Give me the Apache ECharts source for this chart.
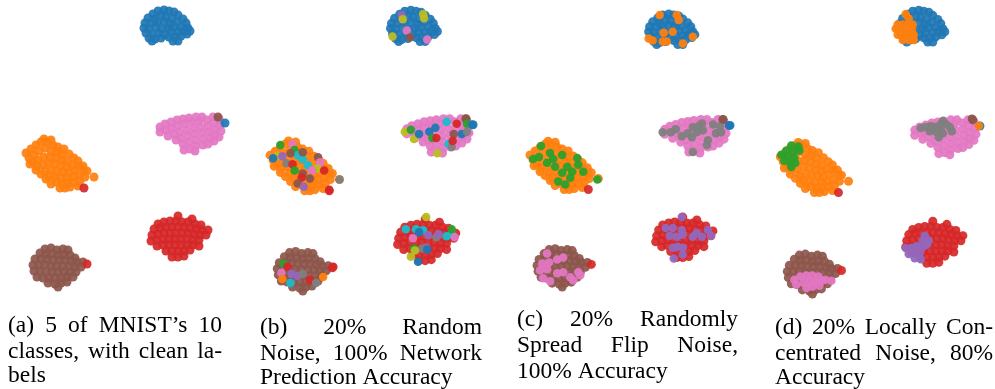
<!DOCTYPE html>
<html><head><meta charset="utf-8">
<script src="https://cdn.jsdelivr.net/npm/echarts@6.0.0/dist/echarts.min.js"></script>
<style>html,body{margin:0;padding:0;background:#fff}#c{width:995px;height:389px}</style>
</head><body><div id="c"></div>
<script>
// tab10 class colours (0 blue,1 orange,2 green,3 red,4 purple,5 brown,6 pink,7 gray,8 olive,9 cyan)
const classColors = ['#1f77b4','#ff7f0e','#2ca02c','#d62728','#9467bd','#8c564b','#e377c2','#7f7f7f','#bcbd22','#17becf'];

// embedding positions of the five classes (t-SNE units)
const cluster0 = [[158,11],[164,10],[169,11],[174,12],[153,14],[161,15],[178,15],[148,18],[155,19],[166,17],[172,19],[183,19],[145,23],[151,23],[158,22],[164,22],[170,24],[177,22],[186,23],[144,28],[149,29],[156,27],[162,29],[168,28],[174,27],[181,27],[188,28],[146,33],[152,34],[159,33],[165,35],[171,32],[178,32],[184,31],[190,31],[149,38],[155,39],[161,38],[169,37],[175,37],[181,36],[187,34],[173,41],[178,41],[152,41]];
const cluster1 = [[26,153],[31,149],[36,145],[41,142],[47,142],[53,145],[58,147],[29,158],[34,155],[39,151],[45,148],[51,151],[57,152],[62,154],[33,162],[38,160],[44,157],[50,157],[56,158],[62,160],[67,161],[37,166],[43,165],[49,163],[55,164],[61,166],[67,167],[72,165],[45,171],[51,170],[57,171],[63,172],[69,173],[75,170],[79,166],[49,176],[55,177],[61,178],[67,178],[73,177],[79,175],[84,171],[56,182],[62,184],[68,183],[74,182],[80,181],[60,188],[70,187],[78,186],
  [64,149],[69,154],[74,158],[78,161],[83,166],[87,171],[30,164],[36,170],[41,174],[46,179],[51,184],[44,139],[51,140],[85,177],[65,188]];
const cluster3 = [[178,216],[192,219],[158,224],[164,222],[170,221],[176,221],[182,222],[188,222],[195,224],[201,225],[154,229],[160,228],[166,227],[172,227],[178,227],[184,227],[190,228],[196,229],[202,230],[208,230],[152,235],[158,234],[164,233],[170,233],[176,233],[182,233],[188,233],[194,234],[200,235],[206,235],[151,241],[157,240],[163,239],[169,239],[175,239],[181,239],[187,239],[193,240],[199,240],[157,246],[163,245],[169,245],[175,245],[181,245],[187,245],[193,245],[199,246],[166,251],[172,251],[178,251],[184,251],[190,250],[172,257],[178,257],[184,256]];
const cluster5 = [[45,249],[51,248],[57,250],[63,249],[68,250],[40,253],[46,254],[52,254],[58,255],[64,255],[70,255],[75,258],[35,259],[41,259],[47,259],[53,260],[59,260],[65,260],[71,261],[77,262],[83,262],[33,265],[39,265],[45,265],[51,266],[57,266],[63,266],[69,266],[75,267],[81,267],[34,271],[40,271],[46,272],[52,272],[58,272],[64,272],[70,272],[76,272],[37,277],[43,278],[49,278],[55,278],[61,278],[67,277],[73,277],[48,283],[55,284],[61,283],[67,282],[58,287]];
const cluster6 = [[160,127],[160,132],[165,124],[166,130],[168,136],[171,122],[172,128],[174,134],[176,140],[177,120],[178,126],[180,132],[181,138],[183,144],[184,150],[183,119],[185,124],[187,130],[188,136],[189,142],[190,149],[189,118],[192,122],[194,128],[195,134],[196,140],[196,146],[195,151],[196,117],[199,121],[201,127],[202,133],[203,139],[203,145],[202,117],[207,120],[208,126],[209,132],[210,138],[208,144],[213,117],[214,123],[215,129],[215,135],[214,141],[219,119],[220,125],[221,131],[219,137]];
// isolated points: [x, y, class]
const strays = [[94,177,1],[84,188,3],[218,117,5],[225,123,0],[87,264,3]];

// relabelled (noisy) points per panel: [x, y, class]
const noiseB = [[155,15,4],[156,19,8],[176,14,8],[177,18,8],[160,30,6],[146,36,8],[163,37,5],[180,39,6],
 [158,130,8],[164,128,2],[167,137,8],[172,132,0],[182,130,0],[185,136,2],[189,136,3],[188,126,0],[199,120,9],[209,122,3],[218,117,5],[219,122,2],[224,123,0],[214,132,0],[206,132,5],[219,130,7],[201,142,9],[204,145,7],[205,139,3],[190,151,8],
 [36,143,2],[48,142,6],[50,148,2],[53,153,9],[46,151,5],[33,154,8],[38,154,4],[29,156,0],[42,161,7],[48,162,3],[58,157,9],[58,150,5],[73,155,5],[75,160,6],[63,163,9],[72,166,8],[79,168,3],[50,168,2],[67,168,6],[58,171,5],[57,175,3],[65,176,5],[53,181,5],[59,184,4],[84,187,3],[94,177,7],
 [179,214,8],[159,226,9],[169,226,9],[176,227,9],[172,229,0],[181,232,4],[189,234,7],[191,231,4],[199,233,9],[204,231,9],[204,226,2],[207,234,6],[166,235,6],[179,244,4],[175,245,7],[167,245,2],[168,247,8],[164,253,8],[171,258,0],[180,246,0],
 [39,260,2],[43,263,3],[37,269,6],[47,270,4],[53,272,4],[58,270,7],[38,275,1],[46,279,9],[65,276,3],[71,279,7],[78,273,1],[88,263,3]];
const noiseC = [[155,11,1],[172,11,1],[174,16,1],[159,29,1],[168,28,1],[144,35,1],[148,37,1],[158,38,1],[162,38,1],[178,40,1],[188,33,1],
 [158,130,7],[166,130,7],[171,127,7],[177,134,7],[183,131,7],[188,125,7],[194,124,7],[197,121,7],[192,130,7],[187,135,7],[198,128,7],[203,138,7],[202,143,7],[208,122,7],[211,131,7],[216,130,7],[215,124,7],[188,150,7],[218,117,5],[224,123,0],
 [37,144,2],[29,157,2],[35,155,2],[43,161,2],[46,151,2],[49,157,2],[58,153,2],[51,165,2],[63,165,2],[73,156,2],[74,163,2],[68,170,2],[79,170,2],[58,171,2],[54,180,2],[61,183,2],[66,176,2],[93,178,2],
 [177,216,4],[161,227,4],[168,227,4],[177,229,4],[165,235,4],[172,236,4],[178,234,4],[188,236,4],[197,236,4],[203,229,4],[206,235,4],[168,247,4],[173,246,4],[178,247,4],[178,254,4],[169,258,4],[192,232,4],
 [43,253,6],[38,263,6],[45,262,6],[53,259,6],[59,257,6],[36,270,6],[43,269,6],[53,273,6],[59,272,6],[66,277,6],[76,275,6],[39,278,6],[46,281,6],[69,280,6],[74,272,6]];
const noiseD = [[151,14,1],[154,18,1],[143,24,1],[148,24,1],[154,25,1],[158,24,1],[141,28,1],[146,29,1],[152,29,1],[157,29,1],[143,34,1],[149,35,1],[155,35,1],[159,34,1],[148,39,1],[154,39,1],[159,39,1],
 [166,125,7],[171,124,7],[176,123,7],[181,124,7],[186,121,7],[188,118,7],[191,121,7],[195,124,7],[186,127,7],[182,129,7],[188,130,7],[184,134,7],[197,128,7],[175,128,7],[217,116,5],[224,123,1],
 [37,142,2],[44,143,2],[32,147,2],[39,148,2],[27,151,2],[33,153,2],[40,154,2],[30,157,2],[36,159,2],[41,159,2],[37,163,2],[45,147,2],
 [170,230,4],[168,235,4],[174,235,4],[151,242,4],[157,242,4],[162,240,4],[168,241,4],[154,248,4],[159,247,4],[165,247,4],[160,252,4],[166,253,4],[172,239,4],
 [40,273,6],[46,270,6],[52,269,6],[58,269,6],[64,270,6],[42,278,6],[49,276,6],[55,275,6],[61,275,6],[67,274,6],[71,273,6],[77,274,6],[52,281,6],[58,280,6],[65,279,6]];

const captionA = ['(a) 5 of MNIST\u2019s 10', 'classes, with clean la-', 'bels'];
const captionB = ['(b) 20% Random', 'Noise, 100% Network', 'Prediction Accuracy'];
const captionC = ['(c) 20% Randomly', 'Spread Flip Noise,', '100% Accuracy'];
const captionD = ['(d) 20% Locally Con-', 'centrated Noise, 80%', 'Accuracy'];

// ---- layout (not data) ----
const panelLayout = [
  {left: 0,     width: 240,   top: 0,    height: 300},
  {left: 243.6, width: 244.8, top: -1.1, height: 305.4},
  {left: 503.9, width: 241.2, top: 4.1,  height: 295.8},
  {left: 754.2, width: 248.2, top: -0.15,height: 307.5}
];
const captionLayout = [
  {left: 8,   right: 222, y: [326, 352, 376]},
  {left: 260, right: 482, y: [328, 354, 378]},
  {left: 517, right: 738, y: [320, 346, 372]},
  {left: 775, right: 993, y: [328, 354, 378]}
];
const capSize = 23.5, capFamily = '"Liberation Serif", "Times New Roman", serif';
const markSize = 9;

const base = [].concat(
  cluster0.map(p => [p[0], p[1], 0]),
  cluster1.map(p => [p[0], p[1], 1]),
  cluster3.map(p => [p[0], p[1], 3]),
  cluster5.map(p => [p[0], p[1], 5]),
  cluster6.map(p => [p[0], p[1], 6]),
  strays
);
const panelNoise = [[], noiseB, noiseC, noiseD];

const grid = [], xAxis = [], yAxis = [], series = [];
const colorFn = p => classColors[p.value[2]];
panelLayout.forEach((L, i) => {
  grid.push({left: L.left, top: L.top, width: L.width, height: L.height, containLabel: false, show: false});
  xAxis.push({type: 'value', gridIndex: i, min: 0, max: 240, show: false});
  yAxis.push({type: 'value', gridIndex: i, min: 0, max: 300, inverse: true, show: false});
  series.push({type: 'scatter', xAxisIndex: i, yAxisIndex: i, data: base, symbolSize: markSize, silent: true, clip: false,
    itemStyle: {color: colorFn, opacity: 0.92}});
  if (panelNoise[i].length) series.push({type: 'scatter', xAxisIndex: i, yAxisIndex: i, data: panelNoise[i], symbolSize: markSize - 0.5, silent: true, clip: false,
    itemStyle: {color: colorFn, opacity: 0.95}});
});

// justified captions
const ctx = document.createElement('canvas').getContext('2d');
ctx.font = capSize + 'px ' + capFamily;
const graphic = [];
[captionA, captionB, captionC, captionD].forEach((lines, ci) => {
  const L = captionLayout[ci];
  lines.forEach((line, li) => {
    const words = line.split(' ');
    const ws = words.map(w => ctx.measureText(w).width);
    let gap = ctx.measureText(' ').width;
    if (li < lines.length - 1 && words.length > 1) {
      gap = (L.right - L.left - ws.reduce((a, b) => a + b, 0)) / (words.length - 1);
    }
    let x = L.left;
    words.forEach((w, wi) => {
      graphic.push({type: 'text', x: x, y: L.y[li], silent: true,
        style: {text: w, fontSize: capSize, fontFamily: capFamily, fill: '#000', align: 'left', verticalAlign: 'middle'}});
      x += ws[wi] + gap;
    });
  });
});

const chart = echarts.init(document.getElementById('c'), null, {renderer: 'canvas'});
chart.setOption({animation: false, backgroundColor: '#fff', grid, xAxis, yAxis, series, graphic});
</script></body></html>
